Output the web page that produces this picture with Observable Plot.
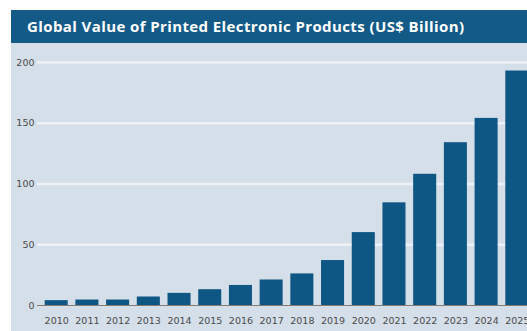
<!DOCTYPE html>
<html>
<head>
<meta charset="utf-8">
<script src="https://cdn.jsdelivr.net/npm/d3@7"></script>
<script src="https://cdn.jsdelivr.net/npm/@observablehq/plot@0.6"></script>
<style>
  html, body { margin: 0; padding: 0; background: #ffffff; }
  #wrap { width: 527px; height: 331px; overflow: hidden; position: relative; background: #ffffff; }
  #panel { position: absolute; left: 11px; top: 10px; width: 530px; height: 321px; background: #d5dfe9; overflow: hidden; }
  #title { height: 33px; background: #135a87; color: #ffffff; font-family: "Open Sans", sans-serif; font-weight: 700; font-size: 15px; letter-spacing: 0.4px; line-height: 33px; padding-left: 16px; white-space: nowrap; }
  #chart svg { display: block; }
</style>
</head>
<body>
<div id="wrap">
  <div id="panel">
    <div id="title">Global Value of Printed Electronic Products (US$ Billion)</div>
    <div id="chart"></div>
  </div>
</div>
<script>
const years = ["2010","2011","2012","2013","2014","2015","2016","2017","2018","2019","2020","2021","2022","2023","2024","2025"];
const values = [4, 4.5, 4.5, 7, 10, 13, 16.5, 21, 26, 37, 60, 84.5, 108, 134, 154, 193];
const yTicks = [0, 50, 100, 150, 200];

const data = years.map((y, i) => ({year: y, value: values[i]}));

const chart = Plot.plot({
  width: 530,
  height: 288,
  marginLeft: 26,
  marginRight: 5,
  marginTop: 19,
  marginBottom: 26,
  style: {background: "transparent", fontFamily: "DejaVu Sans, sans-serif", fontSize: "9.5px", color: "#4a4a4a"},
  x: {domain: years, padding: 0.25, round: false, label: null, tickSize: 0, tickPadding: 12},
  y: {domain: [0, 200], ticks: yTicks, label: null, tickSize: 0, tickPadding: 3},
  marks: [
    Plot.gridY(yTicks.filter(d => d > 0), {stroke: "#eef2f7", strokeOpacity: 1, strokeWidth: 2.5}),
    Plot.barY(data, {x: "year", y: "value", fill: "#0e5683", inset: 0}),
    Plot.ruleY([0], {stroke: "#857a6e", strokeWidth: 1.2})
  ]
});
document.getElementById("chart").appendChild(chart);
</script>
</body>
</html>
